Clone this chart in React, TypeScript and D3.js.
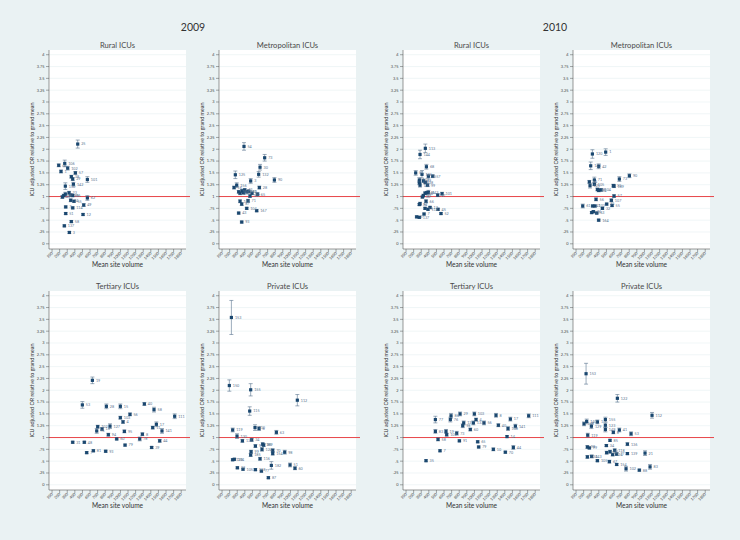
import React from "react";
import * as d3 from "d3";

// [mean site volume, ICU adjusted OR, CI half-width, ICU id]
type Pt = [number, number, number, string];

const years = ["2009", "2010"];
const panelTitles = ["Rural ICUs", "Metropolitan ICUs", "Tertiary ICUs", "Private ICUs"];
const xTicks = [100, 200, 300, 400, 500, 600, 700, 800, 900, 1000, 1100, 1200, 1300, 1400, 1500, 1600, 1700, 1800];
const yTicks = [0, 0.25, 0.5, 0.75, 1, 1.25, 1.5, 1.75, 2, 2.25, 2.5, 2.75, 3, 3.25, 3.5, 3.75, 4];
const yTickLabels = ["0", ".25", ".5", ".75", "1", "1.25", "1.5", "1.75", "2", "2.25", "2.5", "2.75", "3", "3.25", "3.5", "3.75", "4"];
const referenceOR = 1;

const rural2009: Pt[] = [
  [188, 1.66, 0.03, "68"], [267, 1.7, 0.07, "106"], [218, 1.53, 0.03, "1"], [306, 1.6, 0.04, "102"],
  [407, 1.5, 0.03, "57"], [354, 1.42, 0.03, "38"], [372, 1.37, 0.03, "29"], [381, 1.26, 0.04, "142"],
  [275, 1.22, 0.07, "130"], [565, 1.36, 0.06, "101"], [438, 2.11, 0.085, "25"], [236, 0.99, 0.03, "46"],
  [254, 1.02, 0.03, "10"], [275, 1.05, 0.04, "47"], [324, 1.08, 0.03, "23"], [346, 1.03, 0.03, "80"],
  [372, 1.02, 0.02, "86"], [565, 0.97, 0.05, "62"], [389, 0.9, 0.02, "55"], [346, 0.92, 0.03, "34"],
  [280, 0.78, 0.02, "7"], [372, 0.76, 0.02, "114"], [517, 0.82, 0.03, "49"], [280, 0.64, 0.02, "51"],
  [508, 0.62, 0.02, "12"], [354, 0.47, 0.02, "58"], [262, 0.38, 0.02, "137"], [328, 0.24, 0.02, "3"],
];

const metro2009: Pt[] = [
  [389, 2.06, 0.08, "54"], [661, 1.82, 0.07, "73"], [600, 1.62, 0.06, "30"], [275, 1.46, 0.08, "125"],
  [582, 1.47, 0.06, "132"], [477, 1.33, 0.05, "3"], [789, 1.35, 0.05, "90"], [591, 1.19, 0.03, "28"],
  [293, 1.24, 0.05, "156"], [258, 1.19, 0.03, "16"], [319, 1.1, 0.03, "76"], [337, 1.07, 0.03, "41"],
  [363, 1.12, 0.03, "59"], [381, 1.08, 0.03, "94"], [398, 1.14, 0.03, "42"], [425, 1.1, 0.03, "120"],
  [451, 1.11, 0.03, "13"], [495, 1.07, 0.03, "85"], [468, 1.01, 0.03, "107"], [565, 1.05, 0.03, "65"],
  [442, 0.91, 0.03, "71"], [337, 0.9, 0.03, "105"], [359, 0.84, 0.03, "87"], [425, 0.75, 0.02, "104"],
  [556, 0.7, 0.02, "167"], [319, 0.65, 0.02, "43"], [359, 0.46, 0.02, "93"],
];

const tertiary2009: Pt[] = [
  [631, 2.21, 0.07, "19"], [499, 1.69, 0.07, "53"], [815, 1.66, 0.05, "28"], [999, 1.66, 0.05, "15"],
  [1315, 1.71, 0.03, "40"], [1442, 1.59, 0.05, "58"], [1126, 1.49, 0.03, "56"], [999, 1.42, 0.03, "103"],
  [1034, 1.33, 0.03, "4"], [1714, 1.45, 0.05, "111"], [1473, 1.28, 0.05, "17"], [1425, 1.21, 0.03, "11"],
  [1547, 1.14, 0.05, "141"], [1289, 1.07, 0.03, "8"], [1052, 1.13, 0.03, "95"], [863, 1.24, 0.05, "127"],
  [701, 1.23, 0.03, "102"], [758, 1.18, 0.03, "13"], [688, 1.14, 0.05, "76"], [841, 1.06, 0.03, "94"],
  [951, 0.97, 0.02, "60"], [1061, 0.84, 0.02, "79"], [1254, 0.97, 0.04, "78"], [1517, 0.93, 0.03, "44"],
  [1411, 0.79, 0.02, "39"], [372, 0.9, 0.02, "31"], [525, 0.9, 0.02, "48"], [556, 0.68, 0.02, "7"],
  [644, 0.72, 0.02, "81"], [806, 0.71, 0.02, "93"],
];

const private2009: Pt[] = [
  [223, 3.54, 0.36, "153"], [196, 2.1, 0.12, "150"], [477, 2.01, 0.13, "155"], [1091, 1.79, 0.12, "112"],
  [464, 1.56, 0.09, "115"], [534, 1.21, 0.06, "110"], [587, 1.19, 0.04, "6"], [815, 1.11, 0.04, "63"],
  [240, 1.16, 0.04, "119"], [297, 1.03, 0.05, "130"], [368, 0.93, 0.03, "136"], [490, 0.95, 0.03, "34"],
  [539, 0.82, 0.03, "9"], [635, 0.86, 0.03, "189"], [648, 0.84, 0.03, "85"], [626, 0.75, 0.04, "124"],
  [482, 0.7, 0.03, "99"], [477, 0.63, 0.03, "185"], [600, 0.55, 0.03, "116"], [767, 0.73, 0.03, "70"],
  [767, 0.66, 0.03, "154"], [925, 0.69, 0.04, "98"], [240, 0.53, 0.02, "129"], [262, 0.54, 0.02, "104"],
  [995, 0.42, 0.04, "51"], [749, 0.41, 0.08, "182"], [1060, 0.35, 0.03, "60"], [302, 0.36, 0.02, "13"],
  [376, 0.33, 0.02, "105"], [539, 0.32, 0.02, "118"], [618, 0.29, 0.02, "77"], [710, 0.15, 0.02, "87"],
];

const rural2010: Pt[] = [
  [354, 2.02, 0.09, "113"], [284, 1.89, 0.09, "144"], [368, 1.63, 0.05, "68"], [394, 1.43, 0.04, "25"],
  [451, 1.43, 0.03, "57"], [227, 1.5, 0.05, "81"], [310, 1.47, 0.08, "146"], [275, 1.35, 0.05, "102"],
  [275, 1.29, 0.04, "106"], [284, 1.24, 0.04, "130"], [328, 1.33, 0.03, "29"], [354, 1.3, 0.03, "38"],
  [381, 1.24, 0.03, "99"], [350, 1.07, 0.03, "10"], [372, 1.08, 0.03, "46"], [394, 1.09, 0.04, "142"],
  [328, 1.02, 0.03, "23"], [315, 0.99, 0.02, "80"], [517, 1.03, 0.03, "27"], [574, 1.06, 0.03, "101"],
  [363, 0.9, 0.03, "66"], [284, 0.85, 0.03, "47"], [275, 0.83, 0.02, "34"], [350, 0.75, 0.02, "51"],
  [389, 0.73, 0.02, "114"], [416, 0.77, 0.02, "12"], [521, 0.73, 0.02, "45"], [560, 0.64, 0.02, "52"],
  [337, 0.63, 0.02, "7"], [240, 0.57, 0.02, "3"], [275, 0.56, 0.02, "137"],
];

const metro2010: Pt[] = [
  [490, 1.94, 0.07, "1"], [315, 1.9, 0.09, "120"], [293, 1.65, 0.08, "143"], [398, 1.64, 0.05, "42"],
  [802, 1.44, 0.04, "90"], [670, 1.37, 0.05, "73"], [341, 1.35, 0.06, "71"], [275, 1.31, 0.03, "16"],
  [284, 1.23, 0.05, "125"], [341, 1.26, 0.03, "105"], [600, 1.22, 0.03, "189"], [591, 1.23, 0.03, "30"],
  [381, 1.15, 0.03, "59"], [429, 1.14, 0.03, "104"], [398, 1.13, 0.03, "94"], [600, 1.01, 0.03, "57"],
  [363, 0.94, 0.03, "56"], [565, 0.92, 0.03, "107"], [188, 0.8, 0.04, "61"], [319, 0.8, 0.02, "41"],
  [350, 0.8, 0.02, "102"], [447, 0.75, 0.02, "32"], [503, 0.84, 0.02, "85"], [574, 0.81, 0.02, "55"],
  [306, 0.66, 0.02, "13"], [328, 0.68, 0.02, "76"], [372, 0.65, 0.02, "63"], [398, 0.5, 0.02, "164"],
];

const tertiary2010: Pt[] = [
  [363, 0.51, 0.02, "35"], [547, 0.72, 0.02, "7"], [521, 0.96, 0.03, "58"], [486, 1.13, 0.04, "83"],
  [486, 1.38, 0.07, "77"], [626, 1.13, 0.04, "19"], [635, 1.06, 0.03, "109"], [692, 1.46, 0.05, "86"],
  [683, 1.38, 0.05, "76"], [767, 1.09, 0.04, "73"], [811, 1.5, 0.04, "29"], [802, 0.93, 0.02, "91"],
  [846, 1.25, 0.04, "98"], [859, 1.31, 0.04, "13"], [946, 1.17, 0.03, "60"], [999, 1.5, 0.04, "103"],
  [1021, 1.38, 0.03, "4"], [986, 1.31, 0.04, "133"], [1126, 1.31, 0.04, "56"], [1043, 0.91, 0.02, "65"],
  [1056, 0.8, 0.02, "79"], [1249, 0.75, 0.03, "10"], [1284, 1.47, 0.04, "8"], [1315, 1.26, 0.03, "40"],
  [1407, 0.69, 0.02, "70"], [1429, 1.02, 0.02, "14"], [1473, 1.39, 0.04, "17"], [1442, 1.19, 0.04, "108"],
  [1539, 1.24, 0.04, "141"], [1512, 0.79, 0.04, "44"], [1714, 1.46, 0.04, "111"],
];

const private2010: Pt[] = [
  [232, 2.35, 0.22, "153"], [644, 1.83, 0.08, "122"], [1100, 1.47, 0.06, "112"], [240, 1.34, 0.05, "140"],
  [205, 1.29, 0.04, "148"], [302, 1.24, 0.05, "129"], [381, 1.33, 0.04, "1"], [486, 1.38, 0.05, "155"],
  [486, 1.26, 0.05, "123"], [486, 1.17, 0.05, "149"], [591, 1.11, 0.03, "8"], [670, 1.16, 0.04, "41"],
  [824, 1.08, 0.04, "53"], [254, 1.05, 0.04, "119"], [547, 0.94, 0.02, "85"], [499, 0.83, 0.02, "34"],
  [776, 0.86, 0.03, "136"], [249, 0.8, 0.03, "98"], [275, 0.78, 0.02, "99"], [609, 0.73, 0.03, "118"],
  [547, 0.7, 0.03, "70"], [503, 0.68, 0.03, "116"], [635, 0.65, 0.03, "77"], [582, 0.64, 0.03, "124"],
  [776, 0.66, 0.02, "139"], [1008, 0.67, 0.05, "21"], [249, 0.59, 0.03, "134"], [306, 0.6, 0.03, "143"],
  [381, 0.51, 0.02, "105"], [539, 0.49, 0.03, "67"], [635, 0.43, 0.02, "154"], [758, 0.34, 0.05, "102"],
  [933, 0.31, 0.02, "88"], [1074, 0.38, 0.05, "83"],
];

const panelData: Pt[][][] = [
  [rural2009, metro2009, tertiary2009, private2009],
  [rural2010, metro2010, tertiary2010, private2010],
];

const FONT = "Lato, 'Open Sans', sans-serif";
const BG = "#eaf2f3";
const NAVY = "#1a476f";
const W = 137;
const H = 199;
const colLeft = [[49, 219], [403, 573]];
const rowTop = [50, 291];

function Panel({ x0, y0, title, data }: { x0: number; y0: number; title: string; data: Pt[] }) {
  const xs = d3.scaleLinear().domain([60, 1863]).range([0, W]);
  const ys = d3.scaleLinear().domain([-0.11, 4.1]).range([H, 0]);
  return (
    <g transform={`translate(${x0},${y0})`}>
      <text x={W / 2} y={-2.5} textAnchor="middle" fontSize={7.6} fontWeight={400} fill="#4a4a4a" fontFamily={FONT}>{title}</text>
      <rect x={0} y={0} width={W} height={H} fill="#fff" />
      {yTicks.map((t) => (
        <line key={"g" + t} x1={0} x2={W} y1={ys(t)} y2={ys(t)} stroke="#eaf2f3" strokeWidth={0.7} />
      ))}
      <line x1={0} x2={W + 4} y1={ys(referenceOR)} y2={ys(referenceOR)} stroke="#e8474b" strokeWidth={1} />
      {/* y axis */}
      <line x1={0} x2={0} y1={0} y2={H} stroke="#555" strokeWidth={0.6} />
      {yTicks.map((t, i) => (
        <g key={"y" + t}>
          <line x1={-3} x2={0} y1={ys(t)} y2={ys(t)} stroke="#555" strokeWidth={0.5} />
          <text x={-4.5} y={ys(t) + 1.4} textAnchor="end" fontSize={3.9} fill="#444" fontFamily={FONT}>{yTickLabels[i]}</text>
        </g>
      ))}
      <text transform={`translate(-15,${H / 2}) rotate(-90)`} textAnchor="middle" fontSize={5.4} fill="#333" fontFamily={FONT}>
        ICU adjusted OR relative to grand mean
      </text>
      {/* x axis */}
      <line x1={0} x2={W} y1={H} y2={H} stroke="#555" strokeWidth={0.6} />
      {xTicks.map((t) => (
        <g key={"x" + t}>
          <line x1={xs(t)} x2={xs(t)} y1={H} y2={H + 3} stroke="#555" strokeWidth={0.5} />
          <text transform={`translate(${xs(t) + 1},${H + 4.5}) rotate(-45)`} textAnchor="end" fontSize={3.9} fill="#444" fontFamily={FONT}>{t}</text>
        </g>
      ))}
      <text x={W / 2} y={H + 17.5} textAnchor="middle" fontSize={6.6} fill="#333" fontFamily={FONT}>Mean site volume</text>
      {/* CIs */}
      {data.map((d, i) => {
        const cx = xs(d[0]);
        const lo = ys(d[1] - d[2]);
        const hi = ys(d[1] + d[2]);
        return (
          <g key={"c" + i} stroke="#4a6684" strokeWidth={0.55}>
            <line x1={cx} x2={cx} y1={lo} y2={hi} />
            <line x1={cx - 2} x2={cx + 2} y1={lo} y2={lo} />
            <line x1={cx - 2} x2={cx + 2} y1={hi} y2={hi} />
          </g>
        );
      })}
      {data.map((d, i) => (
        <rect key={"m" + i} x={xs(d[0]) - 1.6} y={ys(d[1]) - 1.6} width={3.2} height={3.2} fill={NAVY} />
      ))}
      {data.map((d, i) => (
        <text key={"l" + i} x={xs(d[0]) + 3.5} y={ys(d[1]) + 1.4} fontSize={3.7} fill="#5a7590" fontFamily={FONT}>{d[3]}</text>
      ))}
    </g>
  );
}

export default function App() {
  return (
    <svg width={740} height={540} style={{ position: "absolute", left: 0, top: 0, display: "block" }}>
      <rect width={740} height={540} fill={BG} />
      {years.map((yr, yi) => (
        <g key={yr}>
          <text x={yi === 0 ? 193 : 555} y={31} textAnchor="middle" fontSize={10.5} fontWeight={400} fill="#333" fontFamily={FONT}>{yr}</text>
          {panelTitles.map((pt, pi) => (
            <Panel
              key={pt}
              x0={colLeft[yi][pi % 2]}
              y0={rowTop[Math.floor(pi / 2)]}
              title={pt}
              data={panelData[yi][pi]}
            />
          ))}
        </g>
      ))}
    </svg>
  );
}
